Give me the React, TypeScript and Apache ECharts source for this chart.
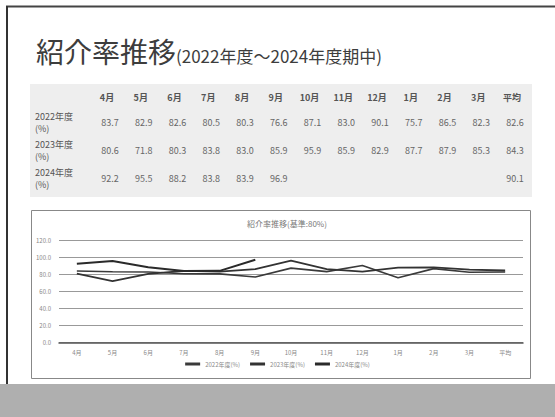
import React, { useEffect, useRef } from "react";
import * as echarts from "echarts";

// Months of the fiscal year plus the yearly average column
const categories = ["4月", "5月", "6月", "7月", "8月", "9月", "10月", "11月", "12月", "1月", "2月", "3月", "平均"];

// Referral rate (%) per fiscal year; last entry is the average
const fy2022 = [83.7, 82.9, 82.6, 80.5, 80.3, 76.6, 87.1, 83.0, 90.1, 75.7, 86.5, 82.3, 82.6];
const fy2023 = [80.6, 71.8, 80.3, 83.8, 83.0, 85.9, 95.9, 85.9, 82.9, 87.7, 87.9, 85.3, 84.3];
const fy2024: (number | null)[] = [92.2, 95.5, 88.2, 83.8, 83.9, 96.9, null, null, null, null, null, null, 90.1];

const rowLabels = ["2022年度", "2023年度", "2024年度"];
const seriesNames = ["2022年度(%)", "2023年度(%)", "2024年度(%)"];
const yTicks = [0, 20, 40, 60, 80, 100, 120];

const FONT = '"Noto Sans CJK JP", "Noto Sans", sans-serif';

export default function App() {
  const ref = useRef<HTMLDivElement>(null);

  useEffect(() => {
    if (!ref.current) return;
    const chart = echarts.init(ref.current, null, { renderer: "svg" });

    const rows = [fy2022, fy2023, fy2024];
    const colX = (i: number) => 110 + i * 33.75;
    const rowY = [116, 144, 172];

    const tableTexts: any[] = [];
    categories.forEach((c, i) => {
      tableTexts.push({
        type: "text",
        x: colX(i) - 3,
        y: 97,
        style: { text: c, fill: "#555", font: `bold 9px ${FONT}`, align: "center", verticalAlign: "middle" },
      });
    });
    rows.forEach((row, r) => {
      tableTexts.push({
        type: "text",
        x: 35,
        y: rowY[r],
        style: { text: rowLabels[r], fill: "#555", font: `9px ${FONT}`, align: "left", verticalAlign: "middle" },
      });
      tableTexts.push({
        type: "text",
        x: 35,
        y: rowY[r] + 12,
        style: { text: "(%)", fill: "#555", font: `9px ${FONT}`, align: "left", verticalAlign: "middle" },
      });
      row.forEach((v, i) => {
        if (v == null) return;
        tableTexts.push({
          type: "text",
          x: colX(i),
          y: rowY[r] + 6,
          style: { text: v.toFixed(1), fill: "#666", font: `9px ${FONT}`, align: "center", verticalAlign: "middle" },
        });
      });
    });

    // The 2024 line stops at the last reported month
    const line2024 = fy2024.map((v, i) => (i === categories.length - 1 ? null : v));

    chart.setOption({
      animation: false,
      backgroundColor: "#ffffff",
      title: {
        text: "紹介率推移(基準:80%)",
        left: 282,
        top: 214,
        textAlign: "center",
        textStyle: { fontFamily: FONT, fontSize: 8, fontWeight: "normal", color: "#777" },
      },
      grid: { left: 59, right: 32, top: 240, height: 102.5, containLabel: false },
      xAxis: {
        type: "category",
        data: categories,
        boundaryGap: true,
        axisLine: { lineStyle: { color: "#555", width: 1.5 } },
        axisTick: { show: false },
        axisLabel: { color: "#888", fontSize: 6, fontFamily: FONT, margin: 7 },
      },
      yAxis: {
        type: "value",
        min: yTicks[0],
        max: yTicks[yTicks.length - 1],
        interval: 20,
        axisLine: { show: false },
        axisTick: { show: false },
        splitLine: { lineStyle: { color: "#999", width: 1 } },
        axisLabel: {
          color: "#888",
          fontSize: 6,
          fontFamily: FONT,
          margin: 8,
          formatter: (v: number) => v.toFixed(1),
        },
      },
      legend: {
        data: seriesNames,
        bottom: 45,
        left: "center",
        itemWidth: 15,
        itemHeight: 3,
        itemGap: 10,
        icon: "rect",
        textStyle: { color: "#888", fontSize: 6, fontFamily: FONT },
      },
      series: [
        { name: seriesNames[0], type: "line", data: fy2022, showSymbol: false, lineStyle: { color: "#3a3a3a", width: 1.6 }, itemStyle: { color: "#3a3a3a" } },
        { name: seriesNames[1], type: "line", data: fy2023, showSymbol: false, lineStyle: { color: "#333", width: 1.8 }, itemStyle: { color: "#333" } },
        { name: seriesNames[2], type: "line", data: line2024, showSymbol: false, lineStyle: { color: "#2a2a2a", width: 2 }, itemStyle: { color: "#2a2a2a" } },
      ],
      graphic: [
        // table backdrop
        { type: "rect", z: -10, shape: { x: 30, y: 84, width: 502, height: 113 }, style: { fill: "#eeeeee" } },
        // chart frame
        { type: "rect", z: -9, shape: { x: 31.5, y: 210.5, width: 499, height: 168 }, style: { fill: "#ffffff", stroke: "#888", lineWidth: 1 } },
        // slide frame edges
        { type: "line", z: 5, shape: { x1: 6, y1: 6.5, x2: 555, y2: 6.5 }, style: { stroke: "#444", lineWidth: 2 } },
        { type: "line", z: 5, shape: { x1: 7, y1: 6, x2: 7, y2: 385 }, style: { stroke: "#333", lineWidth: 2 } },
        // footer band
        { type: "rect", z: 5, shape: { x: 0, y: 384, width: 555, height: 33 }, style: { fill: "#afafaf" } },
        // heading
        {
          type: "text",
          x: 36,
          y: 51,
          style: { text: "紹介率推移", fill: "#3d3d3d", font: `28px ${FONT}`, align: "left", verticalAlign: "middle" },
        },
        {
          type: "text",
          x: 176,
          y: 55,
          style: { text: "(2022年度～2024年度期中)", fill: "#3d3d3d", font: `17px ${FONT}`, align: "left", verticalAlign: "middle" },
        },
        ...tableTexts,
      ],
    });

    return () => chart.dispose();
  }, []);

  return (
    <div
      ref={ref}
      style={{ position: "fixed", left: 0, top: 0, width: 555, height: 417, background: "#fff" }}
    />
  );
}
